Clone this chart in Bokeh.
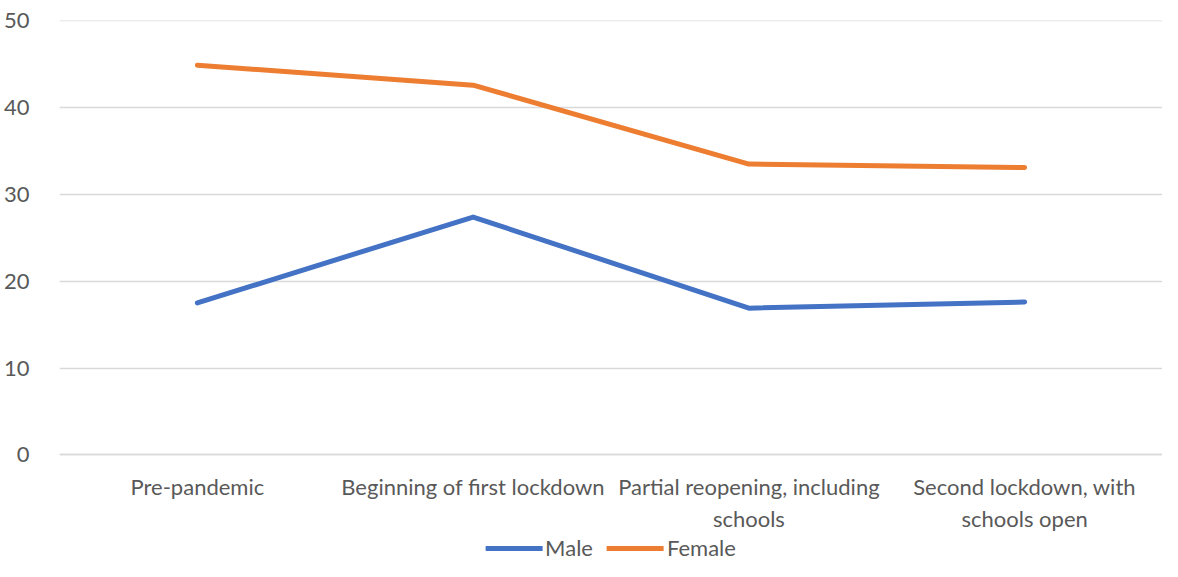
from bokeh.plotting import figure
from bokeh.models import FactorRange, Range1d, Legend, LegendItem, FixedTicker
from bokeh.embed import file_html
from bokeh.resources import INLINE

categories = ["Pre-pandemic", "Beginning of first lockdown",
              "Partial reopening, including\nschools", "Second lockdown, with\nschools open"]
male = [17.5, 27.4, 16.9, 17.6]
female = [44.9, 42.6, 33.5, 33.1]
y_ticks = [0, 10, 20, 30, 40, 50]

FONT = "Lato"
GRAY = "#595959"

# frame spans the full lower area so the legend can sit inside it; 0 baseline via fixed axis
p = figure(x_range=FactorRange(*categories, range_padding=0), y_range=Range1d(-12.3, 50.05),
           width=1162, height=561, output_backend="svg", toolbar_location=None,
           min_border_left=57, min_border_right=0, min_border_top=20, min_border_bottom=0)
p.outline_line_color = None
p.background_fill_color = "white"
p.border_fill_color = "white"

r_m = p.line(categories, male, line_color="#4472C4", line_width=5, line_cap="round", line_join="round")
r_f = p.line(categories, female, line_color="#ED7D31", line_width=5, line_cap="round", line_join="round")

p.xgrid.grid_line_color = None
p.ygrid.grid_line_color = "#d9d9d9"
p.ygrid.grid_line_width = 1.3
p.yaxis.ticker = FixedTicker(ticks=y_ticks)
for ax in (p.xaxis[0], p.yaxis[0]):
    ax.major_tick_line_color = None
    ax.minor_tick_line_color = None
    ax.major_label_text_font = FONT
    ax.major_label_text_font_size = "22px"
    ax.major_label_text_color = GRAY
p.yaxis.axis_line_color = None
p.yaxis.major_label_standoff = 24
p.xaxis.fixed_location = 0
p.xaxis.axis_line_color = "#d9d9d9"
p.xaxis.axis_line_width = 1.3
p.xaxis.major_label_standoff = 12
p.xaxis.group_text_font_size = "0px"

legend = Legend(items=[LegendItem(label="Male", renderers=[r_m]),
                       LegendItem(label="Female", renderers=[r_f])],
                orientation="horizontal", location="bottom_center",
                label_text_font=FONT, label_text_font_size="22px", label_text_color=GRAY,
                glyph_width=57, glyph_height=20, spacing=14, label_standoff=3,
                border_line_color=None, background_fill_alpha=0, padding=0, margin=0)
p.add_layout(legend, "center")

open("out.html", "w").write(file_html(p, INLINE))
